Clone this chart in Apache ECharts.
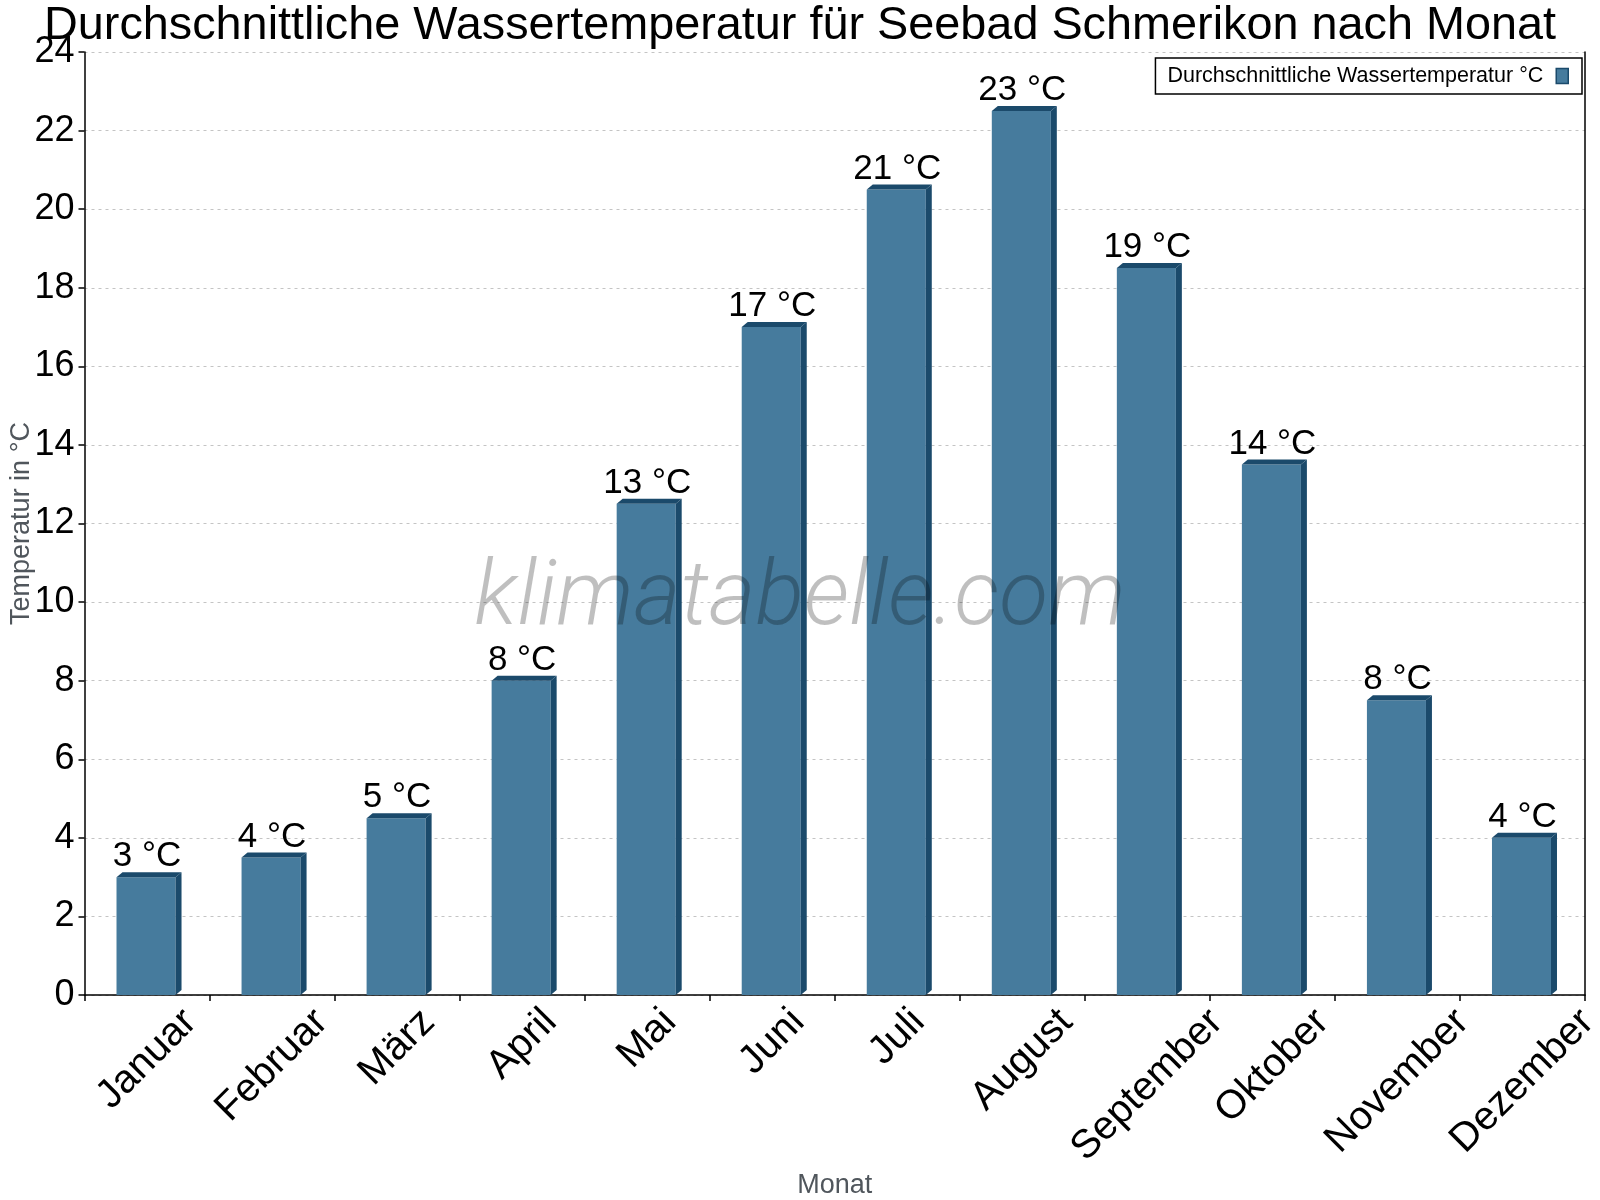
<!DOCTYPE html>
<html>
<head>
<meta charset="utf-8">
<script src="https://cdn.jsdelivr.net/npm/echarts@6/dist/echarts.min.js"></script>
<style>html,body{margin:0;padding:0;background:#fff}#c{width:1600px;height:1200px}</style>
</head>
<body>
<div id="c"></div>
<script>
const months = ['Januar','Februar','März','April','Mai','Juni','Juli','August','September','Oktober','November','Dezember'];
const waterTemp = [3, 3.5, 4.5, 8, 12.5, 17, 20.5, 22.5, 18.5, 13.5, 7.5, 4];
const labelTemp = [3, 4, 5, 8, 13, 17, 21, 23, 19, 14, 8, 4];
const yTicks = [0, 2, 4, 6, 8, 10, 12, 14, 16, 18, 20, 22, 24];
const seriesName = 'Durchschnittliche Wassertemperatur °C';
const titleText = 'Durchschnittliche Wassertemperatur für Seebad Schmerikon nach Monat';

const FRONT = '#467b9d';
const DARK = '#1b4a6b';
const FONT = "'Liberation Sans', Arial, sans-serif";
const NARROW = "'Liberation Sans Narrow', 'Arial Narrow', 'Liberation Sans', sans-serif";
const XLABEL_FONT = '40px ' + FONT;

const measureCtx = document.createElement('canvas').getContext('2d');
function textWidth(t, font) { measureCtx.font = font; return measureCtx.measureText(t).width; }

const chart = echarts.init(document.getElementById('c'), null, {renderer: 'canvas'});

function renderBar(params, api) {
  const i = api.value(0);
  const v = api.value(1);
  const base = api.coord([i, 0]);
  const top = api.coord([i, v]);
  const w = api.size([1, 0])[0] * 0.472;
  const L = base[0] - w / 2 - 1;
  const R = L + w;
  const t = top[1];
  const b = base[1];
  const dx = 6, dy = 5;
  return {
    type: 'group',
    children: [
      {type: 'rect', shape: {x: L, y: t, width: w, height: b - t}, style: {fill: FRONT}},
      {type: 'polygon', shape: {points: [[L, t], [L + dx, t - dy], [R + dx, t - dy], [R, t]]}, style: {fill: DARK}},
      {type: 'polygon', shape: {points: [[R, t], [R + dx, t - dy], [R + dx, b - dy], [R, b]]}, style: {fill: DARK}},
      {type: 'text', x: (L + R) / 2 + 1, y: t - dy + 2,
        style: {text: labelTemp[params.dataIndex] + ' °C', font: '35px ' + FONT, fill: '#000', align: 'center', verticalAlign: 'bottom'}}
    ]
  };
}

// rotated month labels: bounding box centred under the category, top at a fixed gap below the axis
function renderXLabel(params, api) {
  const i = api.value(0);
  const p = api.coord([i, 0]);
  const text = months[params.dataIndex];
  const W = textWidth(text, XLABEL_FONT);
  return {
    type: 'text',
    x: p[0] + W * Math.SQRT1_2 / 2,
    y: p[1] + 21,
    rotation: Math.PI / 4,
    style: {text: text, font: XLABEL_FONT, fill: '#000', align: 'right', verticalAlign: 'middle'}
  };
}

const option = {
  backgroundColor: '#fff',
  animation: false,
  title: {
    text: titleText,
    left: 'center',
    top: -2,
    textStyle: {fontFamily: FONT, fontSize: 46.8, fontWeight: 'normal', color: '#000'}
  },
  legend: {
    right: 18,
    top: 58,
    align: 'right',
    orient: 'horizontal',
    borderColor: '#000',
    borderWidth: 1.5,
    padding: [7, 13, 7, 12],
    itemWidth: 12,
    itemHeight: 15,
    itemGap: 10,
    textStyle: {fontFamily: FONT, fontSize: 21.5, color: '#000', lineHeight: 20, padding: [0, 8, 0, 0]},
    data: [{name: seriesName, icon: 'rect', itemStyle: {color: FRONT, borderColor: DARK, borderWidth: 1.5}}]
  },
  grid: {left: 84.5, right: 15, top: 52, bottom: 205, containLabel: false, outerBoundsMode: 'none'},
  xAxis: [
    {
      type: 'category',
      data: months,
      boundaryGap: true,
      axisLine: {show: true, lineStyle: {color: '#000', width: 1.5}},
      axisTick: {show: true, length: 6, lineStyle: {color: '#000', width: 1.5}},
      axisLabel: {show: false},
      splitLine: {show: false},
      name: 'Monat',
      nameLocation: 'middle',
      nameGap: 177,
      nameMoveOverlap: false,
      nameTextStyle: {fontFamily: NARROW, fontSize: 27, color: '#50565c'}
    }
  ],
  yAxis: [
    {
      type: 'value',
      min: yTicks[0],
      max: yTicks[yTicks.length - 1],
      interval: 2,
      name: 'Temperatur in °C',
      nameLocation: 'middle',
      nameGap: 49,
      nameMoveOverlap: false,
      nameTextStyle: {fontFamily: NARROW, fontSize: 27, color: '#50565c'},
      axisLine: {show: true, lineStyle: {color: '#000', width: 1.5}},
      axisTick: {show: true, length: 6, lineStyle: {color: '#000', width: 1.5}},
      axisLabel: {fontFamily: FONT, fontSize: 36, color: '#000', margin: 10},
      splitLine: {show: true, lineStyle: {color: '#c4c4c4', width: 1, type: [3, 4]}}
    },
    {
      type: 'value',
      position: 'right',
      min: yTicks[0],
      max: yTicks[yTicks.length - 1],
      interval: 2,
      axisLine: {show: true, lineStyle: {color: '#000', width: 1.5}},
      axisTick: {show: false},
      axisLabel: {show: false},
      splitLine: {show: false}
    }
  ],
  series: [
    {
      name: seriesName,
      type: 'custom',
      xAxisIndex: 0,
      yAxisIndex: 0,
      itemStyle: {color: FRONT},
      renderItem: renderBar,
      encode: {x: 0, y: 1},
      data: months.map((m, i) => [i, waterTemp[i]]),
      z: 2
    },
    {
      name: 'Monatsbeschriftung',
      type: 'custom',
      xAxisIndex: 0,
      yAxisIndex: 0,
      clip: false,
      silent: true,
      renderItem: renderXLabel,
      encode: {x: 0, y: 1},
      data: months.map((m, i) => [i, 0]),
      z: 3
    }
  ],
  graphic: [
    {
      type: 'text',
      left: 'center',
      top: 556,
      z: 100,
      style: {text: 'klimatabelle.com', font: 'italic 300 90px Roboto, sans-serif', fill: 'rgba(0,0,0,0.25)'}
    }
  ]
};
chart.setOption(option);
</script>
</body>
</html>
